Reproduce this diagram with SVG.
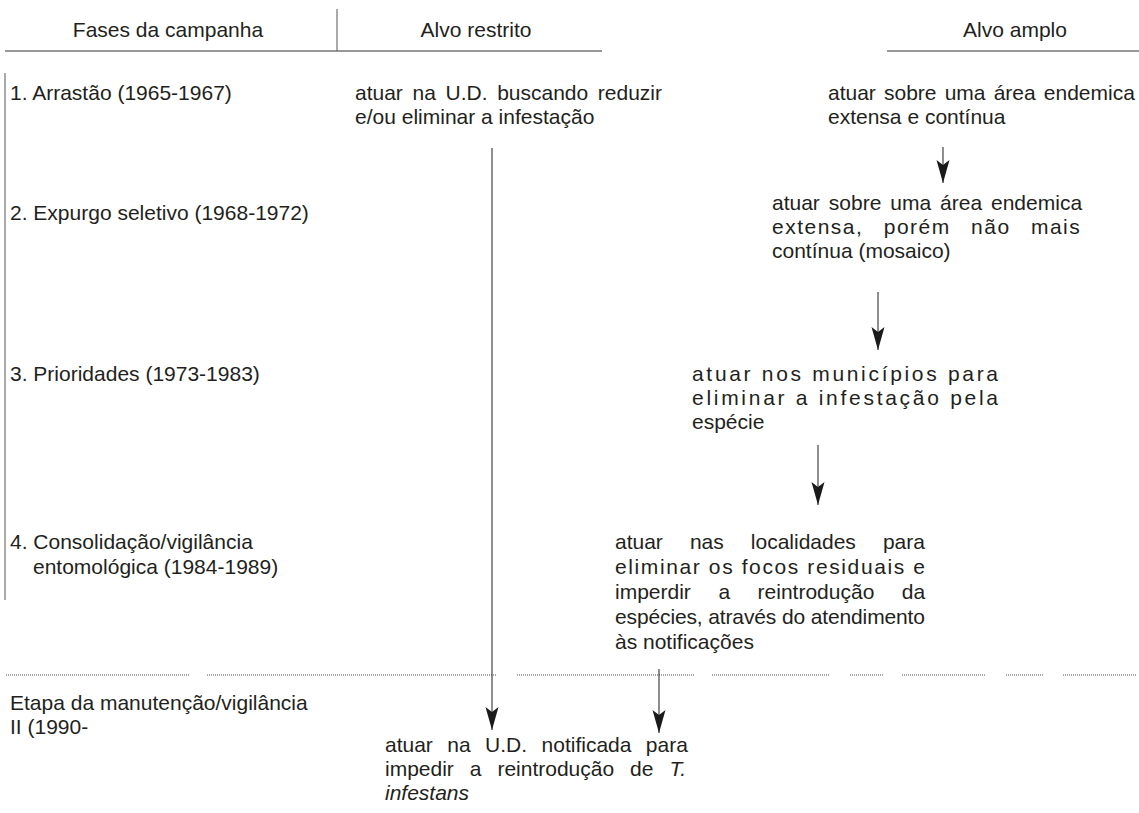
<svg xmlns="http://www.w3.org/2000/svg" width="1139" height="813" viewBox="0 0 1139 813">
<style>
text{font-family:"Liberation Sans",Arial,Helvetica,sans-serif;font-size:21px;fill:#231f20}
.rule{stroke:#333;stroke-width:1.2;fill:none}
.vrule{stroke:#555;stroke-width:1;fill:none}
.dot{stroke:#8a8a8a;stroke-width:1.3;stroke-dasharray:1 1;fill:none}
.conn{stroke:#444;stroke-width:1.2;fill:none;marker-end:url(#ah)}
.it{font-style:italic}
</style>
<defs>
<marker id="ah" viewBox="0 -7 23 14" markerWidth="23" markerHeight="14" refX="23" refY="0" orient="auto" markerUnits="userSpaceOnUse">
<path d="M23,0 L0,-6.5 L5,0 L0,6.5 Z" fill="#1a1a1a"/>
</marker>
</defs>
<rect width="1139" height="813" fill="#fff"/>

<g id="header">
<text x="168" y="37" text-anchor="middle">Fases da campanha</text>
<text x="476" y="37" text-anchor="middle">Alvo restrito</text>
<text x="1015" y="37" text-anchor="middle">Alvo amplo</text>
<line class="rule" x1="5" y1="51" x2="602" y2="51"/>
<line class="vrule" x1="337" y1="9" x2="337" y2="51"/>
<line class="rule" x1="887" y1="51" x2="1139" y2="51"/>
</g>

<g id="phases">
<line class="vrule" x1="5" y1="73" x2="5" y2="600"/>
<text x="10" y="100">1. Arrastão (1965-1967)</text>
<text x="10" y="220">2. Expurgo seletivo (1968-1972)</text>
<text x="10" y="381">3. Prioridades (1973-1983)</text>
<text x="10" y="549">4. Consolidação/vigilância</text>
<text x="33" y="574">entomológica (1984-1989)</text>
</g>

<g id="n1-restrito">
<text x="355" y="100" word-spacing="3.8">atuar na U.D. buscando reduzir</text>
<text x="355" y="124">e/ou eliminar a infestação</text>
</g>

<g id="n1-amplo">
<text x="828" y="100" word-spacing="2.3">atuar sobre uma área endemica</text>
<text x="828" y="124">extensa e contínua</text>
</g>

<g id="n2-amplo">
<text x="772" y="210" word-spacing="3.1">atuar sobre uma área endemica</text>
<text x="772" y="234" letter-spacing="1.5" word-spacing="13">extensa, porém não mais</text>
<text x="772" y="258">contínua (mosaico)</text>
</g>

<g id="n3-amplo">
<text x="692" y="381" textLength="306" lengthAdjust="spacing">atuar nos municípios para</text>
<text x="692" y="405" textLength="306" lengthAdjust="spacing">eliminar a infestação pela</text>
<text x="692" y="429">espécie</text>
</g>

<g id="n4-amplo">
<text x="615" y="549" word-spacing="21.2">atuar nas localidades para</text>
<text x="615" y="574" textLength="310" lengthAdjust="spacing">eliminar os focos residuais e</text>
<text x="615" y="599" word-spacing="21.7">imperdir a reintrodução da</text>
<text x="615" y="624" textLength="310" lengthAdjust="spacing">espécies, através do atendimento</text>
<text x="615" y="649">às notificações</text>
</g>

<g id="separator">
<line class="dot" x1="6" y1="675" x2="189" y2="675"/>
<line class="dot" x1="207" y1="675" x2="496" y2="675"/>
<line class="dot" x1="517" y1="675" x2="694" y2="675"/>
<line class="dot" x1="712" y1="675" x2="830" y2="675"/>
<line class="dot" x1="850" y1="675" x2="883" y2="675"/>
<line class="dot" x1="902" y1="675" x2="986" y2="675"/>
<line class="dot" x1="1006" y1="675" x2="1043" y2="675"/>
<line class="dot" x1="1063" y1="675" x2="1136" y2="675"/>
</g>

<g id="phase-manutencao">
<text x="10" y="710">Etapa da manutenção/vigilância</text>
<text x="10" y="734">II (1990-</text>
</g>

<g id="n5-restrito">
<text x="385" y="752" word-spacing="8.6">atuar na U.D. notificada para</text>
<text x="385" y="776" word-spacing="10.1">impedir a reintrodução de <tspan class="it">T.</tspan></text>
<text x="385" y="800" class="it">infestans</text>
</g>

<g id="connectors">
<line class="conn" x1="943" y1="147" x2="943" y2="183"/>
<line class="conn" x1="878" y1="292" x2="878" y2="350"/>
<line class="conn" x1="818" y1="445" x2="818" y2="505"/>
<line class="conn" x1="492" y1="148" x2="492" y2="730"/>
<line class="conn" x1="659" y1="669" x2="659" y2="733"/>
</g>
</svg>
